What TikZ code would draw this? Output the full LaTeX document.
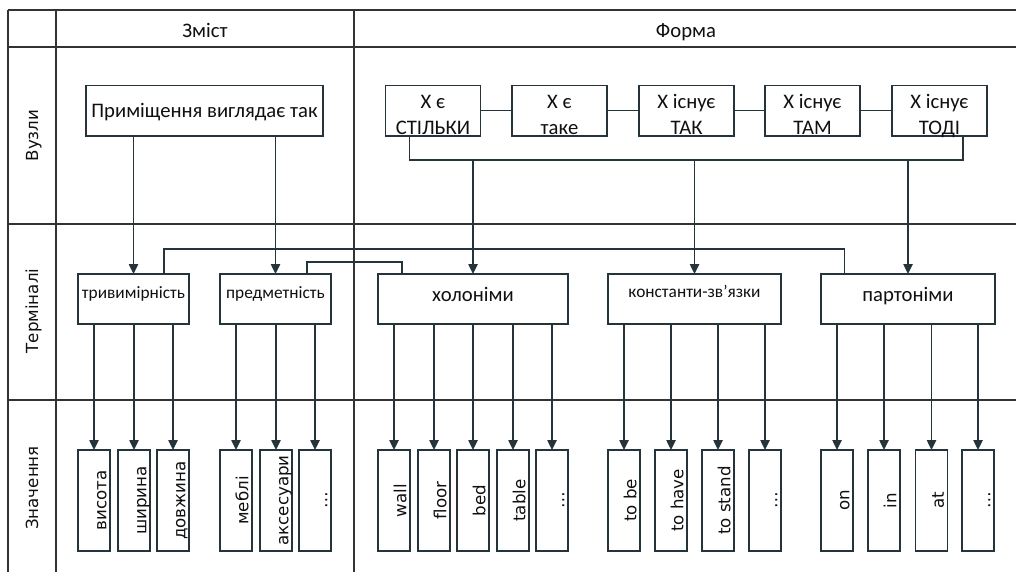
\documentclass[tikz,border=0pt]{standalone}
\usepackage{fontspec}
\setmainfont{Carlito}
\newfontfamily\dejavufont{DejaVu Sans}
\usetikzlibrary{arrows.meta}
\definecolor{ln}{HTML}{25333A}
\definecolor{fr}{HTML}{333333}
\definecolor{tx}{HTML}{101010}
\newcommand\uu{0.75pt}
\tikzset{
  box/.style={draw=ln, line width=1.1pt, inner sep=0pt, outer sep=0pt, fill=white},
  con/.style={draw=ln, line width=1.05pt},
  arr/.style={con, -{Triangle[width=7pt,length=7.5pt]}},
  frm/.style={draw=fr, line width=0.9pt},
  big/.style={font=\fontsize{15.5}{18}\selectfont, inner sep=0pt, text=tx, anchor=base},
  mid/.style={font=\fontsize{13}{15}\selectfont, inner sep=0pt, text=tx, anchor=base},
  val/.style={font={\dejavufont\fontsize{12.5}{15}\selectfont}, inner sep=0pt, text=tx, rotate=90, anchor=base},
}
\begin{document}
\begin{tikzpicture}[x=0.75pt,y=-0.75pt]
\fill[white] (0,0) rectangle (1016,572);
\useasboundingbox (0,0) rectangle (1016,572);
% frame
\draw[frm] (8,10) -- (1016,10);
\draw[frm] (8,47) -- (1016,47);
\draw[frm] (8,224) -- (1016,224);
\draw[frm] (8,400) -- (1016,400);
\draw[frm] (8,10) -- (8,572);
\draw[frm] (56,10) -- (56,572);
\draw[frm] (354,10) -- (354,572);
% headers
\node[big] (hz) at (205,37.3) {Зміст};
\node[big] (hf) at (686,37.3) {Форма};
\node[val] (r1) at (38,135.5) {Вузли};
\node[val] (r2) at (38,311) {Терміналі};
\node[val] (r3) at (38,488) {Значення};
% node row
\node[box, minimum width=237*\uu, minimum height=50.5*\uu] (n0) at (204.5,110.75) {};
\node[big] (n0t) at (204.5,117) {Приміщення виглядає так};
\foreach \nm/\x/\a/\b in {f1/433/X є/СТІЛЬКИ, f2/559.5/X є/таке, f3/686.5/X існує/ТАК, f4/812.5/X існує/ТАМ, f5/939.5/X існує/ТОДІ}{
  \node[box, minimum width=95*\uu, minimum height=50.5*\uu] (\nm) at (\x,110.75) {};
  \node[big] (\nm a) at (\x,108.3) {\a};
  \node[big] (\nm b) at (\x,134) {\b};
}
\draw[con] (f1) -- (f2);
\draw[con] (f2) -- (f3);
\draw[con] (f3) -- (f4);
\draw[con] (f4) -- (f5);
% terminals
\node[box, minimum width=111*\uu, minimum height=50*\uu] (t1) at (133.5,299) {};
\node[mid] (t1t) at (133.5,298.3) {тривимірність};
\node[box, minimum width=111*\uu, minimum height=50*\uu] (t2) at (275.5,299) {};
\node[mid] (t2t) at (275.5,298.3) {предметність};
\node[box, minimum width=190*\uu, minimum height=50*\uu] (t3) at (473,299) {};
\node[big] (t3t) at (473,301.7) {холоніми};
\node[box, minimum width=173*\uu, minimum height=50*\uu] (t4) at (694.5,299) {};
\node[mid] (t4t) at (694.5,297.3) {константи-зв’язки};
\node[box, minimum width=174*\uu, minimum height=50*\uu] (t5) at (908,299) {};
\node[big] (t5t) at (908,301.7) {партоніми};
% node -> terminal
\draw[arr] (n0.south -| t1.north) -- (t1.north);
\draw[arr] (n0.south -| t2.north) -- (t2.north);
\coordinate (busL) at (409.5,160);
\coordinate (busR) at (963,160);
\draw[con] (f1.south -| busL) -- (busL) -- (busR) -- (f5.south -| busR);
\draw[arr] (t3.north |- busL) -- (t3.north);
\draw[arr] (t4.north |- busL) -- (t4.north);
\draw[arr] (t5.north |- busL) -- (t5.north);
% cross links
\coordinate (c1) at (164,249);
\coordinate (c2) at (844.5,249);
\draw[con] (t1.north -| c1) -- (c1) -- (c2) -- (t5.north -| c2);
\coordinate (d1) at (307,262);
\coordinate (d2) at (402,262);
\draw[con] (t2.north -| d1) -- (d1) -- (d2) -- (t3.north -| d2);
% values
\foreach \nm/\x/\src/\t in {v1/94/t1/висота, v2/134/t1/ширина, v3/173/t1/довжина,
  v4/236/t2/меблі, v5/276/t2/аксесуари, v6/315/t2/…,
  v7/394/t3/wall, v8/434/t3/floor, v9/473/t3/bed, v10/513/t3/table, v11/552/t3/…,
  v12/624/t4/to be, v13/671/t4/to have, v14/718/t4/to stand, v15/765/t4/…,
  v16/837/t5/on, v17/884/t5/in, v18/931.5/t5/at, v19/978/t5/…}{
  \node[box, minimum width=32*\uu, minimum height=101*\uu] (\nm) at (\x,500.5) {};
  \node[val] (\nm t) at (\x+12.3,500.5) {\t};
  \draw[arr] (\nm.north |- \src.south) -- (\nm.north);
}
\end{tikzpicture}
\end{document}
